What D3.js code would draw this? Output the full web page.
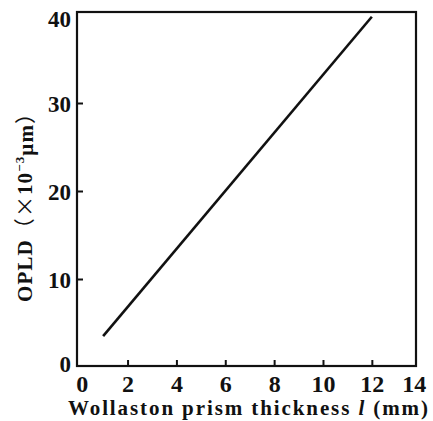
<!DOCTYPE html>
<html>
<head>
<meta charset="utf-8">
<script src="https://cdn.jsdelivr.net/npm/d3@7"></script>
<style>
  body { margin: 0; background: #fff; }
  text { font-family: "Liberation Serif", "DejaVu Serif", serif; fill: #111; }
</style>
</head>
<body>
<div id="chart"></div>
<script>
// values
var thickness = [1, 12];          // Wollaston prism thickness l (mm)
var opld = [3.5, 39.8];           // OPLD (x10^-3 um)
var xTicks = [0, 2, 4, 6, 8, 10, 12, 14];
var yTicks = [0, 10, 20, 30, 40];

var W = 433, H = 421;
var margin = {left: 77, top: 12, right: 17, bottom: 55};
var width = W - margin.left - margin.right;
var height = H - margin.top - margin.bottom;

var data = thickness.map(function(d, i) { return {x: d, y: opld[i]}; });

// the scale runs slightly past the frame on the right, as in the figure
var x = d3.scaleLinear().domain([0, 14]).range([1.7, 343.7]);
var y = d3.scaleLinear().domain([0, 40]).range([355, 3]);

var svg = d3.select("#chart").append("svg")
    .attr("width", W)
    .attr("height", H);

var g = svg.append("g")
    .attr("transform", "translate(" + margin.left + "," + margin.top + ")");

// frame
g.append("rect")
    .attr("x", 0).attr("y", 0)
    .attr("width", width).attr("height", height)
    .attr("fill", "none")
    .attr("stroke", "#111")
    .attr("stroke-width", 2.2);

// bottom axis, ticks pointing inward
var xAxis = g.append("g")
    .attr("transform", "translate(0," + height + ")")
    .call(d3.axisBottom(x).tickValues(xTicks).tickSizeInner(-6).tickSizeOuter(0).tickPadding(0));
xAxis.select(".domain").remove();
xAxis.selectAll("line").attr("stroke", "#111").attr("stroke-width", 2)
    .filter(function(d) { return d === 0 || d === 14; }).remove();
xAxis.selectAll("text")
    .attr("font-size", 24)
    .attr("font-weight", "bold")
    .attr("y", 26)
    .attr("dy", 0)
    .attr("dx", function(d) { return d === 0 ? 3 : d === 14 ? -7 : 0; });

// left axis, ticks pointing inward
var yAxis = g.append("g")
    .call(d3.axisLeft(y).tickValues(yTicks).tickSizeInner(-6).tickSizeOuter(0).tickPadding(6));
yAxis.select(".domain").remove();
yAxis.selectAll("line").attr("stroke", "#111").attr("stroke-width", 2)
    .filter(function(d) { return d === 0 || d === 40; }).remove();
yAxis.selectAll("text")
    .attr("font-size", 23)
    .attr("font-weight", "bold")
    .attr("dy", function(d) { return d === 0 ? "0.2em" : d === 40 ? "0.5em" : "0.35em"; });

// the curve
var line = d3.line()
    .x(function(d) { return x(d.x); })
    .y(function(d) { return y(d.y); });

g.append("path")
    .datum(data)
    .attr("fill", "none")
    .attr("stroke", "#111")
    .attr("stroke-width", 2.6)
    .attr("d", line);

// axis titles
var xt = svg.append("text")
    .attr("x", 68)
    .attr("y", 415)
    .attr("font-size", 21)
    .attr("font-weight", "bold")
    .attr("textLength", 360)
    .attr("lengthAdjust", "spacing");
xt.append("tspan").text("Wollaston prism thickness ");
xt.append("tspan").attr("font-style", "italic").text("l");
xt.append("tspan").text(" (mm)");

var yt = svg.append("text")
    .attr("transform", "translate(32,302) rotate(-90)")
    .attr("font-size", 21)
    .attr("font-weight", "bold")
    .attr("textLength", 199)
    .attr("lengthAdjust", "spacing");
yt.append("tspan").text("OPLD");
yt.append("tspan").attr("font-family", "'Noto Sans CJK SC'").attr("font-weight", "normal").text("\uff08\u00d7");
yt.append("tspan").text("10");
yt.append("tspan").attr("font-size", 13).attr("dy", "-0.6em").text("\u22123");
yt.append("tspan").attr("dy", "0.4em").text("\u03bcm");
yt.append("tspan").attr("font-family", "'Noto Sans CJK SC'").attr("font-weight", "normal").text("\uff09");
</script>
</body>
</html>
